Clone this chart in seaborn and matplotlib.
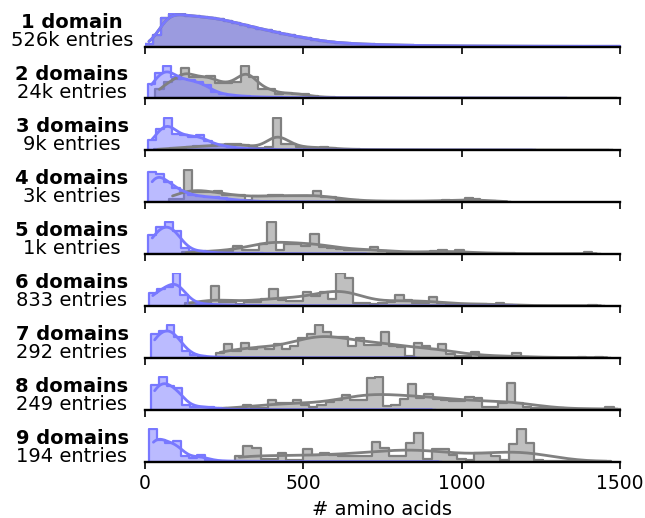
import numpy as np
import pandas as pd
import matplotlib
matplotlib.use("Agg")
import matplotlib.pyplot as plt
import seaborn as sns

# ---------------- data ----------------
n_domains = [1, 2, 3, 4, 5, 6, 7, 8, 9]
entry_labels = ["526k", "24k", "9k", "3k", "1k", "833", "292", "249", "194"]
entry_counts = [526000, 24000, 9000, 3000, 1000, 833, 292, 249, 194]

# blue = domain lengths, gray = full protein lengths (relative bin heights)
blue_start = [0, 8, 10, 10, 10, 12, 18, 18, 14]
blue_width = [25, 25, 25, 25, 26, 25, 25, 25, 25]
gray_start = [0, 32, 28, 75, 116, 127.5, 224, 232, 284]
gray_width = [25, 27, 25, 24, 27, 26.5, 26, 26, 27]

blue_1 = [8, 35, 88, 100, 99, 95, 93, 91, 88, 84, 79, 73, 67, 61, 55, 50, 44, 39, 34, 30,
          25, 21, 17, 14, 12, 10, 8.5, 7.5, 6.5, 5.5, 5, 4.5, 4, 3.5, 3, 2.7, 2.4, 2.1, 1.9, 1.7,
          1.5, 1.4, 1.3, 1.2, 1.1, 1.0, 0.9, 0.8, 0.7, 0.6, 0.5, 0.5, 0.4, 0.4, 0.3, 0.3, 0.3, 0.2, 0.2, 0.2]
blue_2 = [45, 77, 100, 66, 59, 56, 50, 40, 19, 14, 10, 8, 6, 5, 4, 3.5, 3, 2.5, 2, 2,
          2, 1.5, 1.5, 1.5, 1.2, 1.2, 1, 1, 1, 0.9, 0.8, 0.8, 0.7, 0.7, 0.6, 0.6, 0.5, 0.5, 0.5, 0.4,
          0.4, 0.4, 0.3, 0.3, 0.3, 0.3, 0.2, 0.2, 0.2, 0.2, 0.2, 0.1, 0.1]
blue_3 = [32, 65, 100, 50, 48, 42, 46, 30, 17, 15, 9, 7, 5, 4, 3, 2.5, 2, 2, 1.5, 1.5,
          1.2, 1.2, 1, 1, 0.8, 0.8, 0.7, 0.6, 0.6, 0.5, 0.5, 0.4, 0.4, 0.4, 0.3, 0.3, 0.3, 0.2, 0.2, 0.2,
          0.2, 0.2, 0.1, 0.1, 0.1, 0.1, 0.1, 0.1, 0.1]
blue_4 = [93, 88, 62, 45, 32, 22, 19, 16, 15, 12, 8, 6, 4, 3, 2, 2, 1.5, 1.5, 1, 1, 1, 0.8, 0.6, 0.5]
blue_5 = [59, 84, 100, 70, 20, 9, 10, 5, 4, 3, 3, 2, 2, 2, 1.5, 1.5, 1, 1, 1, 1,
          0.8, 0.8, 0.6, 0.6, 0.5, 0.5, 0.4]
blue_6 = [40, 52, 57, 100, 35, 10, 7, 5, 4, 3, 3, 2, 2, 2, 1.5, 1.5, 1.2, 1, 1, 1,
          0.8, 0.8, 0.7, 0.6, 0.6, 0.5, 0.5, 0.5, 0.4, 0.4, 0.4, 0.3, 0.3, 0.3, 0.3, 0.2, 0.2, 0.2, 0.2, 0.2,
          0.2, 0.1, 0.1, 0.1, 0.1, 0.1, 0.1]
blue_7 = [74, 84, 100, 63, 20, 8, 5, 3, 2, 1.5, 1, 0.8, 0.6, 0.5, 0.4, 0.4, 0.3, 0.3, 0.3, 0.2,
          0.2, 0.2, 0.2, 0.2, 0.1, 0.1, 0.1, 0.1, 0.1, 0.1, 0.1, 0.1, 0.1, 0.1]
blue_8 = [76, 100, 72, 68, 15, 10, 9, 8, 4, 2, 1, 1, 0.8, 0.6, 0.5, 0.4, 0.4, 0.3, 0.3, 0.2,
          0.2, 0.2, 0.2, 0.1, 0.1, 0.1, 0.1, 0.1, 0.1, 0.1, 0.1, 0.1, 0.1, 0.1, 0.1, 0.1]
blue_9 = [100, 68, 56, 65, 16, 11, 22, 6, 3, 2, 1.5, 1, 1, 0.8, 0.6, 0.5, 0.5, 0.4, 0.4, 0.3,
          0.3, 0.3, 0.2, 0.2, 0.2, 0.2, 0.2, 0.1, 0.1, 0.1, 0.1, 0.1, 0.1, 0.1, 0.1, 0.1, 0.1]

gray_1 = blue_1
gray_2 = [30, 50, 60, 93, 66, 66, 70, 47, 47, 50, 100, 66, 30, 30, 14, 17, 15, 12, 6, 4,
          3, 2, 2, 2, 1.5, 1.5, 1.2, 1, 1, 1, 0.8, 0.8, 0.7, 0.6, 0.6, 0.5, 0.5, 0.4, 0.4, 0.3,
          0.3, 0.3, 0.2, 0.2, 0.2, 0.2, 0.2, 0.2, 0.2, 0.1, 0.1, 0.1, 0.1, 0.1]
gray_3 = [3, 5, 7, 8, 10, 12, 13, 14, 17, 19, 19, 17, 10, 8, 9, 100, 20, 18, 10, 8,
          8, 11, 6, 4, 3, 3, 2, 2, 1.5, 1.5, 1.2, 1.2, 1, 1, 1, 0.8, 0.8, 0.7, 0.7, 0.6,
          0.6, 0.5, 0.5, 0.5, 0.4, 0.4, 0.4, 0.3, 0.3, 0.3, 0.3, 0.2, 0.2, 0.2, 0.2, 0.2, 0.2, 0.1]
gray_4 = [10, 10, 100, 30, 30, 30, 35, 22, 22, 22, 8, 19, 19, 22, 22, 19, 19, 19, 19, 33,
          17, 17, 8, 8, 6, 5, 3, 3, 3, 3, 3, 3, 3, 3, 3, 3, 8, 4, 4, 14, 10, 5, 3, 2, 1]
gray_5 = [5, 7, 8, 8, 8, 10, 24, 12, 12, 31, 100, 12, 30, 30, 25, 62, 22, 20, 15, 14,
          13, 14, 21, 10, 7, 5, 5, 4, 4, 11, 13, 6, 13, 4, 2, 2, 2, 4, 2, 1,
          1, 1, 1, 1, 1, 1, 1, 5, 1]
gray_6 = [9, 9, 9, 62, 11, 11, 7, 11, 11, 20, 51, 17, 15, 15, 44, 30, 44, 20, 100, 87,
          9, 9, 5, 9, 11, 34, 18, 9, 9, 29, 9, 5, 5, 5, 5, 7, 4, 10, 3, 1,
          1, 1, 1, 1, 1, 1, 1, 1, 2, 1]
gray_7 = [16, 42, 21, 47, 26, 32, 26, 42, 28, 37, 60, 74, 100, 81, 63, 63, 37, 60, 40, 39,
          79, 37, 32, 5, 47, 37, 28, 42, 11, 7, 7, 19, 5, 3, 3, 3, 14, 2, 1, 1,
          1, 1, 1, 1, 2, 1, 2, 1]
gray_8 = [5, 3, 6, 14, 7, 6, 31, 20, 20, 31, 15, 10, 15, 24, 30, 44, 30, 30, 98, 100,
          12, 15, 32, 79, 35, 50, 34, 30, 28, 28, 39, 37, 8, 8, 20, 83, 20, 8, 5, 5,
          5, 6, 2, 2, 2, 2, 2, 9, 2]
gray_9 = [16, 48, 43, 8, 8, 27, 5, 5, 38, 22, 27, 20, 18, 18, 18, 18, 61, 43, 18, 18,
          57, 89, 8, 38, 38, 20, 7, 5, 27, 27, 16, 5, 54, 100, 56, 5, 2, 1, 1, 1,
          1, 1, 1, 1]

blue_rows = [blue_1, blue_2, blue_3, blue_4, blue_5, blue_6, blue_7, blue_8, blue_9]
gray_rows = [gray_1, gray_2, gray_3, gray_4, gray_5, gray_6, gray_7, gray_8, gray_9]

x_ticks = [0, 500, 1000, 1500]
x_label = "# amino acids"

# ---------------- style ----------------
sns.set_style("ticks")
plt.rcParams["font.family"] = ["DejaVu Sans"]
plt.rcParams["text.color"] = "black"
plt.rcParams["axes.labelcolor"] = "black"
plt.rcParams["xtick.color"] = "black"
BLUE = "#7878ff"
GRAY = "#808080"

W, H = 645, 518
fig = plt.figure(figsize=(W / 100, H / 100), dpi=100)


def bw_adjust_for(centers, h, n_true, width):
    w = np.asarray(h, float)
    w = w / w.sum()
    neff = 1.0 / np.sum(w ** 2)
    mean = np.sum(w * centers)
    std = np.sqrt(np.sum(w * (centers - mean) ** 2))
    target = max(std * n_true ** (-0.2), 0.9 * width)
    base = std * neff ** (-0.2)
    return float(target / base)


def draw(ax, start, width, heights, n_true, color):
    heights = np.asarray(heights, float)
    n = len(heights)
    centers = start + width * (np.arange(n) + 0.5)
    df = pd.DataFrame({"length": centers, "count": heights})
    bwa = bw_adjust_for(centers, heights, n_true, width)
    sns.histplot(data=df, x="length", weights="count", binwidth=width,
                 binrange=(start, start + width * n), element="step", fill=True,
                 kde=True, color=color, ax=ax, linewidth=1.6,
                 kde_kws={"bw_adjust": bwa}, line_kws={"linewidth": 2.0})


left_px, right_px = 145, 620
for i in range(9):
    base_px = 46.5 + 51.9 * i
    ax = fig.add_axes([left_px / W, (H - base_px) / H, (right_px - left_px) / W, 33.5 / H])
    draw(ax, gray_start[i], gray_width[i], gray_rows[i], entry_counts[i], GRAY)
    draw(ax, blue_start[i], blue_width[i], blue_rows[i], entry_counts[i] * n_domains[i], BLUE)
    ax.set_xlim(0, 1500)
    ax.set_ylim(0, 103)
    ax.set_yticks([])
    ax.set_ylabel("")
    ax.set_xticks(x_ticks)
    sns.despine(ax=ax, left=True)
    ax.spines["bottom"].set_linewidth(1.7)
    ax.spines["bottom"].set_color("black")
    ax.spines["bottom"].set_zorder(5)
    ax.tick_params(axis="x", length=5, width=1.2, color="black", labelcolor="black",
                   labelsize=13.5, pad=4)
    if i < 8:
        ax.set_xticklabels([])
        ax.set_xlabel("")
    else:
        ax.set_xlabel(x_label, fontsize=14, labelpad=5, color="black")
    word = "domain" if n_domains[i] == 1 else "domains"
    fig.text(72 / W, 1 - (base_px - 23.5) / H, f"{n_domains[i]} {word}", ha="center",
             va="center", fontsize=14, fontweight="bold", color="black")
    fig.text(72 / W, 1 - (base_px - 5.5) / H, f"{entry_labels[i]} entries", ha="center",
             va="center", fontsize=14, color="black")

fig.savefig("out.png", dpi=100)
